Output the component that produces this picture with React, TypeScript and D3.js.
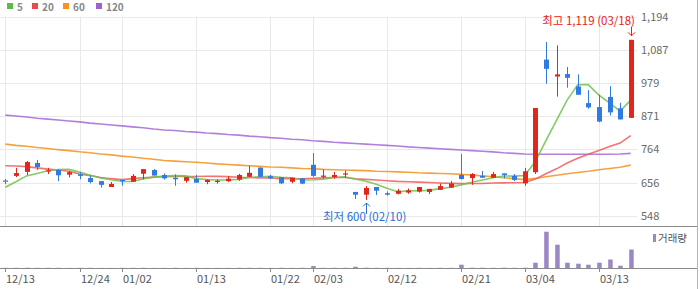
import React from "react";
import * as d3 from "d3";

const dates = [
  "12/13","12/16","12/17","12/18","12/19","12/20","12/23","12/24","12/26","12/27",
  "12/30","01/02","01/03","01/06","01/07","01/08","01/09","01/10","01/13","01/14",
  "01/15","01/16","01/17","01/20","01/21","01/22","01/23","01/24","01/31","02/03",
  "02/04","02/05","02/06","02/07","02/10","02/11","02/12","02/13","02/14","02/17",
  "02/18","02/19","02/20","02/21","02/24","02/25","02/26","02/27","02/28","03/04",
  "03/05","03/06","03/07","03/10","03/11","03/12","03/13","03/14","03/17","03/18",
];

const opens = [
  663,678,691,720,694,697,682,683,671,661,
  642,665,659,685,697,681,672,662,668,658,
  659,661,666,675,705,677,674,659,670,714,
  675,674,683,626,617,642,622,620,624,627,
  626,633,640,681,671,678,672,686,678,654,
  690,1055,1000,1008,968,914,901,934,897,866,
];
const highs = [
  668,704,726,730,704,700,694,690,680,661,
  658,665,684,700,700,686,683,674,681,667,
  667,677,685,711,705,681,674,672,670,752,
  699,691,695,626,645,642,628,636,637,642,
  636,653,661,749,687,694,691,686,684,704,
  898,1112,1101,1031,1007,956,941,969,915,1119,
];
const lows = [
  651,674,681,697,684,661,673,667,654,640,
  642,646,659,667,679,666,646,656,656,651,
  653,658,662,675,675,667,651,654,651,675,
  670,669,673,603,600,616,614,618,620,624,
  619,633,640,666,649,672,672,670,661,646,
  684,977,935,964,941,896,852,874,861,866,
];
const closes = [
  661,687,723,707,696,680,690,678,658,649,
  652,661,678,700,679,670,667,674,656,665,
  662,669,681,688,675,670,654,672,653,678,
  679,681,686,617,639,630,617,630,631,642,
  636,645,653,668,684,672,684,681,665,693,
  898,1025,1007,996,941,900,854,884,861,1119,
];
const volumes = [
  2,2,3,2,2,2,1,2,2,1,
  1,2,2,2,1,1,2,1,2,1,
  1,1,2,2,2,1,2,1,2,20,
  2,2,2,13,3,2,2,1,1,2,
  1,2,2,33,3,3,2,3,2,3,
  53,363,233,53,43,33,53,85,23,185,
];

const ma5 = [
  641,659,678,686,694.8,698.6,699.2,690.2,680.4,671,
  665.4,659.6,659.6,668,674,677.6,678.8,678,669.2,666.4,
  664.8,665.2,666.6,673,675,676.6,673.6,671.8,664.8,665.4,
  667.2,672.6,675.4,668.2,660.4,650.6,637.8,626.6,629.4,630,
  631.2,636.8,641.4,648.8,657.2,664.4,672.2,677.8,677.2,679,
  724.2,792.4,857.6,923.8,973.4,973.8,939.6,915,888,923.6,
];
const ma20 = [
  711,710,708,704,700,697,693,684,679,673,
  669,666,669,672,674,675,676,676,676,676.6,
  676.6,675.7,673.6,672.7,671.6,671.1,669.3,669,668.8,670.2,
  671.6,672.6,673,668.8,666.8,664.8,662.3,660.1,658.9,657.7,
  656.4,655.2,653.8,652.8,653.3,653.4,654.9,655.3,655.9,656.7,
  667.6,684.8,700.9,719.8,734.9,748.4,760.3,773,784.5,808.3,
];
const ma60 = [
  781,777,774,770,767,763,760,756,753,749,
  746,742,739,735,732,728,726,724,722,720,
  717,715,713,711,709,707,706,704,702,701,
  699,698,697,696,695,693,692,691,690,688,
  687,686,685,683,681,678,675,672,669,666,
  670,675,680,685,689,693,698,702,706,713,
];
const ma120 = [
  875,872,869,865,862,859,856,853,849,846,
  843,840,837,834,830,827,825,822,820,817,
  815,812,810,807,805,802,800,797,795,792,
  790,787,785,783,781,779,777,775,772,770,
  768,766,764,762,760,758,756,753,751,749,
  748,748,748,748,748,748,748,748,749,751,
];

const tickDates = ["12/13","12/24","01/02","01/13","01/22","02/03","02/12","02/21","03/04","03/13"];
const priceTicks = [548, 656, 764, 871, 979, 1087, 1194];
const priceTickLabels = ["548", "656", "764", "871", "979", "1,087", "1,194"];

const maLegend = [
  { label: "5", color: "#5dbb46" },
  { label: "20", color: "#e94b4b" },
  { label: "60", color: "#f7931e" },
  { label: "120", color: "#9e62cf" },
];

const highLabel = "최고 1,119 (03/18)";
const lowLabel = "최저 600 (02/10)";
const highIndex = 59;
const lowIndex = 34;
const highValue = 1119;
const lowValue = 600;

const FONT = "'Noto Sans CJK KR', 'Noto Sans', sans-serif";
const UP = "#e2261c";
const DOWN = "#2f7be0";

export default function App() {
  const W = 700, H = 289;
  const x = d3.scalePoint<string>().domain(dates).range([5.3, 630.7]);
  const y = d3.scaleLinear().domain([548, 1194]).range([216, 16.7]);
  const yv = d3.scaleLinear().domain([0, 420]).range([268, 226]);
  const px = (d: string) => Math.round(x(d) as number);

  const line = (vals: number[]) =>
    d3.line<number>().x((_, i) => x(dates[i]) as number).y((v) => y(v))(vals) || "";

  const maSeries = [
    { vals: ma120, color: "#a46ad6" },
    { vals: ma60, color: "#f5901f" },
    { vals: ma20, color: "#f25a5a" },
    { vals: ma5, color: "#6cc24c" },
  ];

  const legendX = [7, 32, 63, 96];

  const hx = px(dates[highIndex]) + 0.5;
  const lx = px(dates[lowIndex]) + 0.5;

  return (
    <div style={{ position: "fixed", left: 0, top: 0 }}>
      <svg width={W} height={H} style={{ display: "block", background: "#fff" }} fontFamily={FONT}>
        {/* horizontal grid */}
        {priceTicks.map((v) => (
          <line key={"hg" + v} x1={0} x2={637} y1={Math.round(y(v)) + 0.5} y2={Math.round(y(v)) + 0.5} stroke="#e9e9e9" />
        ))}
        {/* vertical grid */}
        {tickDates.map((d) => (
          <line key={"vg" + d} x1={px(d) + 0.5} x2={px(d) + 0.5} y1={16.5} y2={226} stroke="#e9e9e9" />
        ))}
        {/* price labels */}
        {priceTicks.map((v, i) => (
          <text key={"pl" + v} x={641} y={y(v) + 4} fontSize={11} fill="#6a6a6a">{priceTickLabels[i]}</text>
        ))}
        {/* moving averages */}
        {maSeries.map((s, i) => (
          <path key={"ma" + i} d={line(s.vals)} fill="none" stroke={s.color} strokeWidth={1.6} strokeOpacity={0.85} />
        ))}
        {/* candles */}
        {dates.map((d, i) => {
          const o = opens[i], c = closes[i], h = highs[i], l = lows[i];
          const col = c >= o ? UP : DOWN;
          const cx = px(d);
          const top = y(Math.max(o, c));
          const bh = Math.max(1.2, Math.abs(y(o) - y(c)));
          return (
            <g key={"c" + d}>
              <line x1={cx + 0.5} x2={cx + 0.5} y1={y(h)} y2={y(l)} stroke={col} strokeWidth={1} />
              <rect x={cx - 2} y={top} width={5} height={bh} fill={col} />
            </g>
          );
        })}
        {/* high annotation */}
        <text x={635} y={25} fontSize={11.5} fill="#e8211b" textAnchor="end">{highLabel}</text>
        <path d={`M${hx},${y(highValue) - 13} V${y(highValue) - 4} M${hx - 3.5},${y(highValue) - 7.5} L${hx},${y(highValue) - 4} L${hx + 3.5},${y(highValue) - 7.5}`} fill="none" stroke="#e8211b" strokeWidth={1} />
        {/* low annotation */}
        <path d={`M${lx},${y(lowValue) + 14} V${y(lowValue) + 3} M${lx - 3.5},${y(lowValue) + 6.5} L${lx},${y(lowValue) + 3} L${lx + 3.5},${y(lowValue) + 6.5}`} fill="none" stroke="#2a6fd0" strokeWidth={1} />
        <text x={323} y={221} fontSize={11.5} fill="#2a6fd0">{lowLabel}</text>
        {/* legend */}
        {maLegend.map((m, i) => (
          <g key={"lg" + m.label}>
            <rect x={legendX[i]} y={3} width={6} height={6} fill={m.color} />
            <text x={legendX[i] + 10} y={10.5} fontSize={10} fontWeight="bold" fill="#888">{m.label}</text>
          </g>
        ))}
        {/* volume panel */}
        {dates.map((d, i) => (
          <rect key={"v" + d} x={px(d) - 1.8} y={yv(volumes[i])} width={4.5} height={268 - yv(volumes[i])} fill="#9c87c6" />
        ))}
        <line x1={0} x2={698} y1={226.5} y2={226.5} stroke="#8a8a8a" />
        <line x1={0} x2={698} y1={268.5} y2={268.5} stroke="#8a8a8a" />
        <line x1={697.5} x2={697.5} y1={0} y2={289} stroke="#b5b5b5" />
        {tickDates.map((d) => (
          <g key={"xt" + d}>
            <line x1={px(d) + 0.5} x2={px(d) + 0.5} y1={268} y2={272} stroke="#8a8a8a" />
            <text x={px(d) + 1} y={283} fontSize={11} fill="#555">{d}</text>
          </g>
        ))}
        <rect x={653} y={234} width={3} height={8} fill="#9c87c6" />
        <text x={658} y={242} fontSize={10.5} fill="#555">거래량</text>
      </svg>
    </div>
  );
}
